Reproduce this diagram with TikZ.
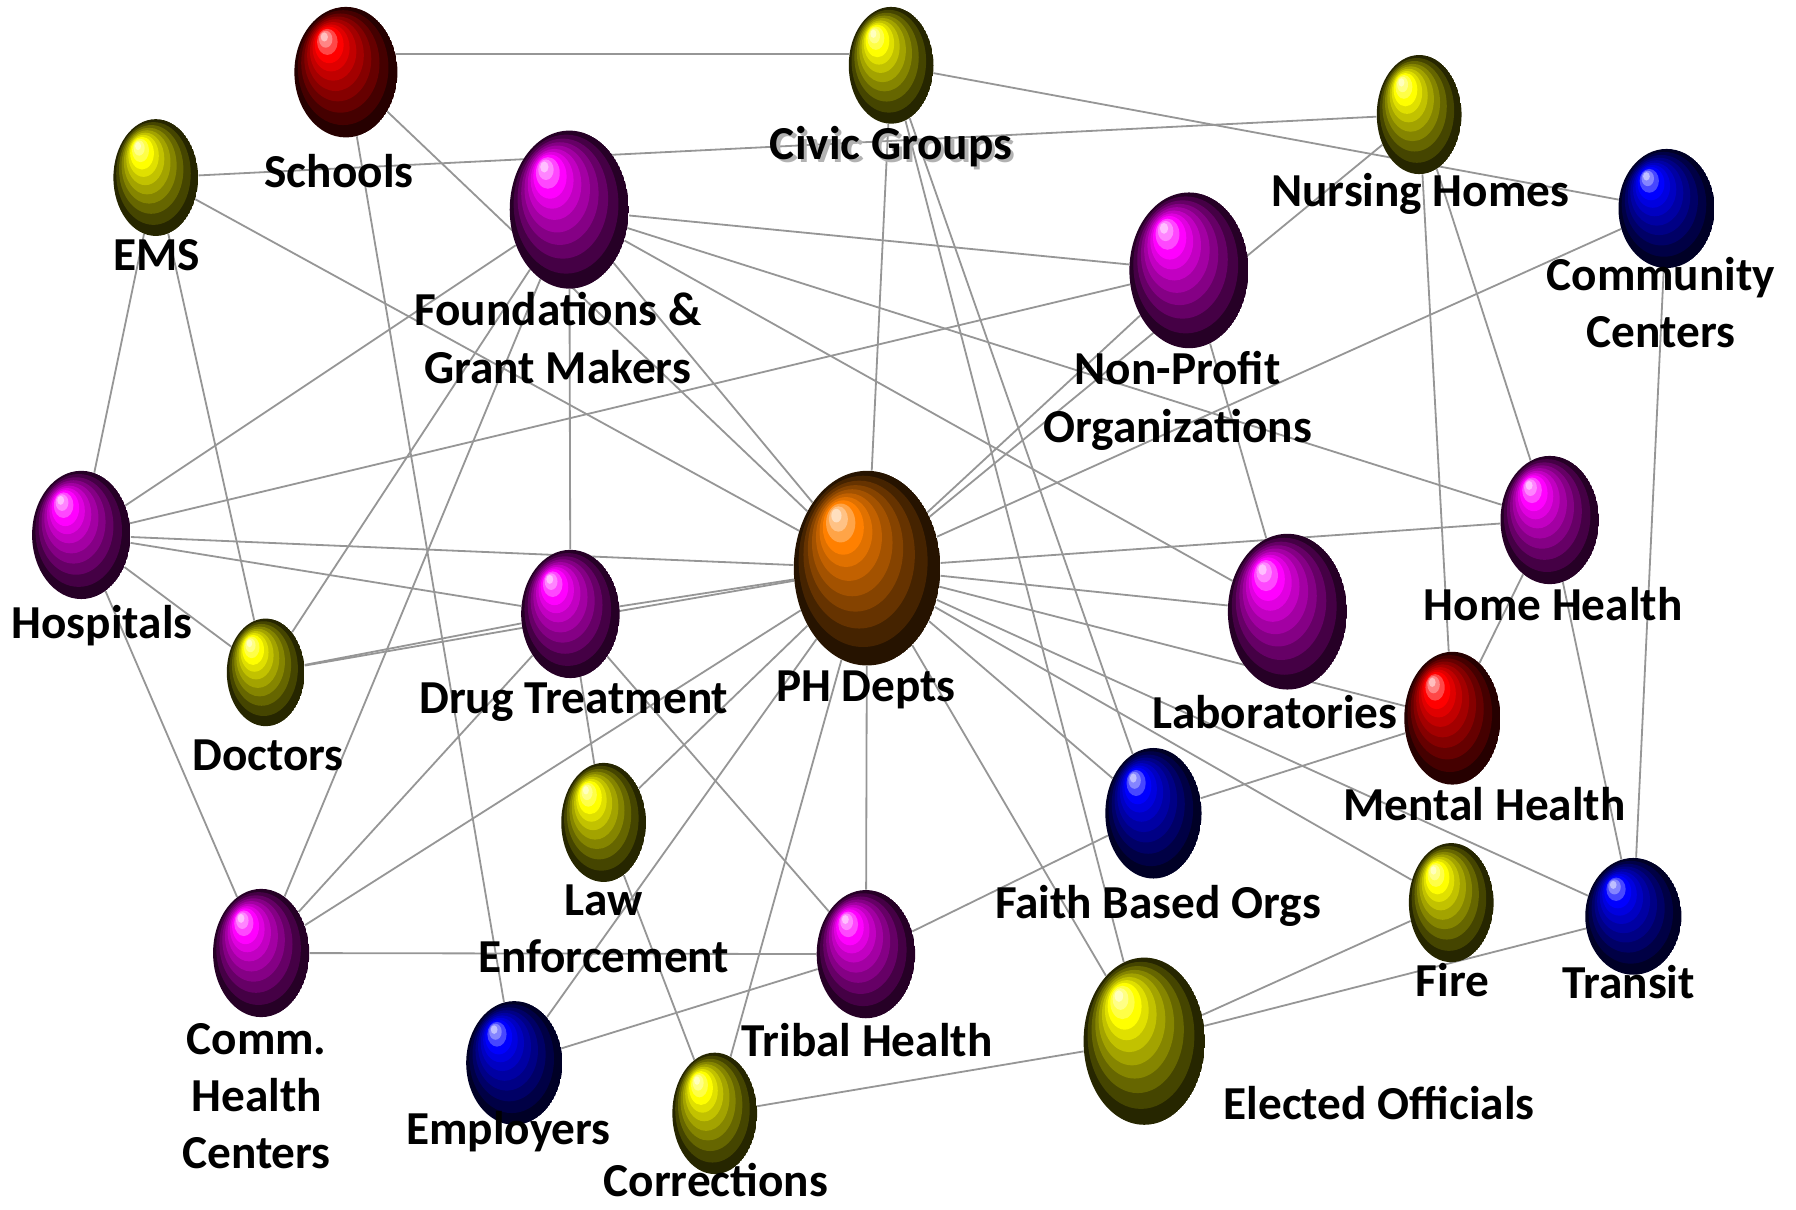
\documentclass[tikz,border=0pt]{standalone}
\usepackage{fontspec}
\setmainfont{Carlito}
\usetikzlibrary{shapes.geometric,calc,backgrounds}
\definecolor{OrbMagenta}{RGB}{255,  0,255}
\definecolor{OrbYellow} {RGB}{255,255,  0}
\definecolor{OrbRed}    {RGB}{255,  0,  0}
\definecolor{OrbBlue}   {RGB}{  0,  0,255}
\definecolor{OrbOrange} {RGB}{255,128,  0}
\definecolor{LinkGray}  {RGB}{150,150,150}
\tikzset{
  %% 分层球体：颜色 / 横半径 / 纵半径
  orb/.style n args={3}{ellipse,inner sep=0pt,
       minimum width={#2*0.04cm},minimum height={#3*0.04cm},
       path picture={
         \foreach \t/\c in {0/#1!15!black,0.12/#1!27!black,0.24/#1!40!black,
                            0.35/#1!52!black,0.45/#1!64!black,0.55/#1!76!black,
                            0.64/#1!88!black,0.72/#1,0.80/#1!72!white,
                            0.87/#1!48!white,0.93/#1!25!white}{
           \fill[fill=\c] let \p1=(path picture bounding box.center),
                              \p2=(path picture bounding box.north east) in
             ({\x1-0.45*\t*(\x2-\x1)},{\y1+0.58*\t*(\y2-\y1)})
             ellipse [x radius={(1-\t)*(\x2-\x1)},y radius={(1-\t)*(\y2-\y1)}];
         }}},
  %% 标签文字
  orbtext/.style={font=\fontsize{23.5}{28.5}\selectfont\bfseries,
                  align=center,inner sep=0pt},
  %% 连线
  link/.style={draw=LinkGray,line width=0.9pt},
}
\begin{document}
\begin{tikzpicture}[x=0.02cm,y=-0.02cm]
    \useasboundingbox (0,0) rectangle (1568,1056);

    %% 上排
    \node[orb={OrbRed}{45}{57}]        (schools)     at (302,63)  {};
    \node[orb={OrbYellow}{37}{51}]     (civic)       at (778,57)  {};
    \node[orb={OrbYellow}{37}{52}]     (nursing)     at (1239,100) {};
    \node[orb={OrbBlue}{42}{52}]       (community)   at (1455,182) {};
    \node[orb={OrbYellow}{37}{51}]     (ems)         at (136,155) {};
    \node[orb={OrbMagenta}{52}{69}]    (found)       at (497,183) {};
    \node[orb={OrbMagenta}{52}{68}]    (nonprofit)   at (1038,236) {};

    %% 中间
    \node[orb={OrbMagenta}{43}{56}]    (hosp)        at (71,467)  {};
    \node[orb={OrbYellow}{34}{47}]     (doctors)     at (232,587) {};
    \node[orb={OrbMagenta}{43}{56}]    (drug)        at (498,536) {};
    \node[orb={OrbOrange}{64}{85}]     (ph)          at (757,496) {};
    \node[orb={OrbMagenta}{52}{68}]    (labs)        at (1124,534) {};
    \node[orb={OrbMagenta}{43}{56}]    (homehealth)  at (1353,454) {};
    \node[orb={OrbRed}{42}{58}]        (mental)      at (1268,627) {};

    %% 下排
    \node[orb={OrbYellow}{37}{52}]     (law)         at (527,718) {};
    \node[orb={OrbBlue}{42}{57}]       (faith)       at (1007,710) {};
    \node[orb={OrbYellow}{37}{52}]     (fire)        at (1267,788) {};
    \node[orb={OrbBlue}{42}{51}]       (transit)     at (1426,800) {};
    \node[orb={OrbMagenta}{42}{56}]    (commhealth)  at (228,832) {};
    \node[orb={OrbMagenta}{43}{56}]    (tribal)      at (756,833) {};
    \node[orb={OrbBlue}{42}{54}]       (employers)   at (449,928) {};
    \node[orb={OrbYellow}{37}{53}]     (corrections) at (624,972) {};
    \node[orb={OrbYellow}{53}{73}]     (elected)     at (999,909) {};

    %% 标签
    \node[orbtext,anchor=base] (schoolsL)   at (296,164)  {Schools};
    \node[orbtext,anchor=base,text=black!30] (civicS) at (781,142) {Civic Groups};
    \node[orbtext,anchor=base] (civicL)     at (778,139)  {Civic Groups};
    \node[orbtext,anchor=base] (nursingL)   at (1240,180) {Nursing Homes};
    \node[orbtext]             (communityL) at (1450,264) {Community\\Centers};
    \node[orbtext,anchor=base] (emsL)       at (137,236)  {EMS};
    \node[orbtext]             (foundL)     at (487,295)  {Foundations \&\\Grant Makers};
    \node[orbtext]             (nonprofitL) at (1028,350) {Non-Profit\\Organizations};
    \node[orbtext,anchor=base] (hospL)      at (89,557)   {Hospitals};
    \node[orbtext,anchor=base] (doctorsL)   at (234,673)  {Doctors};
    \node[orbtext,anchor=base] (drugL)      at (501,623)  {Drug Treatment};
    \node[orbtext,anchor=base] (phL)        at (756,612)  {PH Depts};
    \node[orbtext,anchor=base] (labsL)      at (1113,636) {Laboratories};
    \node[orbtext,anchor=base] (homehealthL) at (1356,542) {Home Health};
    \node[orbtext,anchor=base] (mentalL)    at (1296,716) {Mental Health};
    \node[orbtext]             (lawL)       at (527,811)  {Law\\Enforcement};
    \node[orbtext,anchor=base] (faithL)     at (1011,802) {Faith Based Orgs};
    \node[orbtext,anchor=base] (fireL)      at (1268,870) {Fire};
    \node[orbtext,anchor=base] (transitL)   at (1422,872) {Transit};
    \node[orbtext]             (commhealthL) at (224,957) {Comm.\\Health\\Centers};
    \node[orbtext,anchor=base] (tribalL)    at (757,922)  {Tribal Health};
    \node[orbtext,anchor=base] (employersL) at (444,999)  {Employers};
    \node[orbtext,anchor=base] (correctionsL) at (625,1045) {Corrections};
    \node[orbtext,anchor=base] (electedL)   at (1204,977) {Elected Officials};

    %% 连线（放在球体后面）
    \begin{scope}[on background layer]
    \draw[link] (schools.20) -- (civic.165);
    \draw[link] (schools)    -- (ph);
    \draw[link] (schools)    -- (employers);
    \draw[link] (ems)        -- (nursing);
    \draw[link] (ems)        -- (hosp);
    \draw[link] (ems)        -- (doctors);
    \draw[link] (ems)        -- (ph);
    \draw[link] (civic)      -- (community);
    \draw[link] (civic)      -- (ph);
    \draw[link] (civic)      -- (faith);
    \draw[link] (civic)      -- (elected);
    \draw[link] (found)      -- (nonprofit);
    \draw[link] (found)      -- (homehealth);
    \draw[link] (found)      -- (labs);
    \draw[link] (found)      -- (hosp);
    \draw[link] (found)      -- (doctors);
    \draw[link] (found)      -- (commhealth);
    \draw[link] (found)      -- (drug);
    \draw[link] (found)      -- (ph);
    \draw[link] (hosp)       -- (nonprofit);
    \draw[link] (hosp)       -- (ph);
    \draw[link] (hosp)       -- (drug);
    \draw[link] (hosp)       -- (doctors);
    \draw[link] (hosp)       -- (commhealth);
    \draw[link] (doctors)    -- (drug);
    \draw[link] (doctors)    -- (ph);
    \draw[link] (drug)       -- (ph);
    \draw[link] (drug)       -- (commhealth);
    \draw[link] (drug)       -- (law);
    \draw[link] (drug)       -- (tribal);
    \draw[link] (ph)         -- (commhealth);
    \draw[link] (ph)         -- (law);
    \draw[link] (ph)         -- (employers);
    \draw[link] (ph)         -- (corrections);
    \draw[link] (ph)         -- (tribal);
    \draw[link] (ph)         -- (elected);
    \draw[link] (ph)         -- (faith);
    \draw[link] (ph)         -- (fire);
    \draw[link] (ph)         -- (transit);
    \draw[link] (ph)         -- (mental);
    \draw[link] (ph)         -- (labs);
    \draw[link] (ph)         -- (homehealth);
    \draw[link] (ph)         -- (nonprofit);
    \draw[link] (ph)         -- (nursing);
    \draw[link] (ph)         -- (community);
    \draw[link] (nonprofit)  -- (labs);
    \draw[link] (nursing)    -- (homehealth);
    \draw[link] (nursing)    -- (mental);
    \draw[link] (homehealth) -- (mental);
    \draw[link] (homehealth) -- (transit);
    \draw[link] (community)  -- (transit);
    \draw[link] (mental)     -- (faith);
    \draw[link] (faith)      -- (tribal);
    \draw[link] (tribal)     -- (employers);
    \draw[link] (tribal)     -- (commhealth);
    \draw[link] (law)        -- (corrections);
    \draw[link] (corrections)-- (elected);
    \draw[link] (elected)    -- (fire);
    \draw[link] (elected)    -- (transit);
    \end{scope}
\end{tikzpicture}
\end{document}
